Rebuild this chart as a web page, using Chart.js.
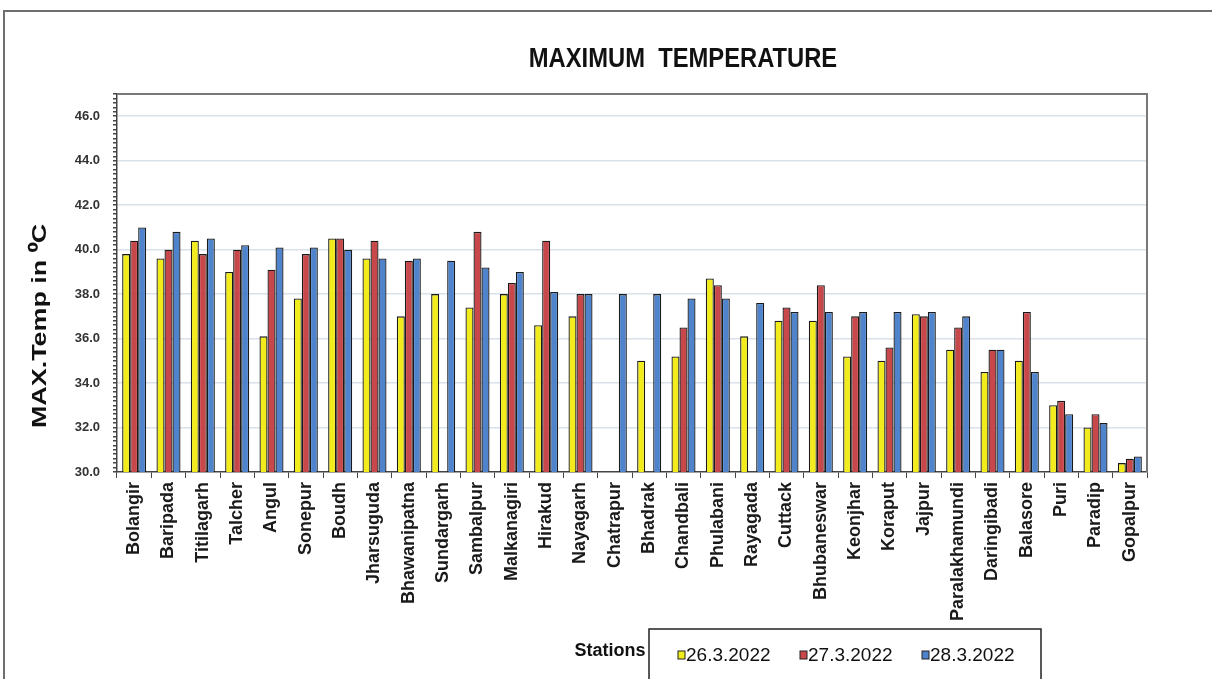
<!DOCTYPE html>
<html>
<head>
<meta charset="utf-8">
<script src="https://cdn.jsdelivr.net/npm/chart.js@4/dist/chart.umd.min.js"></script>
<style>
html, body { margin:0; padding:0; background:#fff; overflow:hidden; }
#wrap { position:relative; width:1212px; height:679px; }
#frame { position:absolute; left:3px; top:10px; width:1230px; height:700px; border:2px solid #6e6e6e; box-sizing:border-box; }
canvas { position:absolute; left:0; top:0; }
</style>
</head>
<body>
<div id="wrap">
  <div id="frame"></div>
  <canvas id="tempChart" width="1212" height="679"></canvas>
</div>
<script>
// stations along the x axis
const stations = ['Bolangir','Baripada','Titilagarh','Talcher','Angul','Sonepur','Boudh','Jharsuguda',
  'Bhawanipatna','Sundargarh','Sambalpur','Malkanagiri','Hirakud','Nayagarh','Chatrapur','Bhadrak',
  'Chandbali','Phulabani','Rayagada','Cuttack','Bhubaneswar','Keonjhar','Koraput','Jajpur',
  'Paralakhamundi','Daringibadi','Balasore','Puri','Paradip','Gopalpur'];

const dates = ['26.3.2022', '27.3.2022', '28.3.2022'];

// max temp per station (null = no report)
const temp26 = [39.8,39.6,40.4,39.0,36.1,37.8,40.5,39.6,37.0,38.0,37.4,38.0,36.6,37.0,null,35.0,
  35.2,38.7,36.1,36.8,36.8,35.2,35.0,37.1,35.5,34.5,35.0,33.0,32.0,30.4];
const temp27 = [40.4,40.0,39.8,40.0,39.1,39.8,40.5,40.4,39.5,null,40.8,38.5,40.4,38.0,null,null,
  36.5,38.4,null,37.4,38.4,37.0,35.6,37.0,36.5,35.5,37.2,33.2,32.6,30.6];
const temp28 = [41.0,40.8,40.5,40.2,40.1,40.1,40.0,39.6,39.6,39.5,39.2,39.0,38.1,38.0,38.0,38.0,
  37.8,37.8,37.6,37.2,37.2,37.2,37.2,37.2,37.0,35.5,34.5,32.6,32.2,30.7];

const yMin = 30;
const yMax = 47;
const yMajor = 2;
const yMinor = 0.2;

const FONT = '"Liberation Sans", Arial, sans-serif';
const colors = ['#f3ec1c', '#c8474b', '#4f84cc'];

function isMajor(v) {
    return Math.abs(v % yMajor) < 1e-6 || Math.abs(v % yMajor - yMajor) < 1e-6;
}

// frame round the plot area
const plotBox = {
    id: 'plotBox',
    afterDatasetsDraw(chart) {
        const {ctx, chartArea: a} = chart;
        ctx.save();
        ctx.strokeStyle = '#777';
        ctx.lineWidth = 2;
        ctx.beginPath();
        ctx.moveTo(a.left, a.top);
        ctx.lineTo(a.right, a.top);
        ctx.lineTo(a.right, a.bottom);
        ctx.stroke();
        ctx.restore();
    }
};

// condensed title texts, the "Stations" label and the boxed legend
const extraText = {
    id: 'extraText',
    afterDraw(chart) {
        const ctx = chart.ctx;
        ctx.save();
        ctx.fillStyle = '#111';
        ctx.textAlign = 'center';
        ctx.textBaseline = 'middle';

        // main title, a bit narrow like the original
        ctx.save();
        ctx.translate(683, 60);
        ctx.scale(0.88, 1);
        ctx.font = 'bold 27px ' + FONT;
        ctx.fillText('MAXIMUM  TEMPERATURE', 0, 0);
        ctx.restore();

        // y axis title
        ctx.save();
        ctx.translate(40, 326);
        ctx.rotate(-Math.PI / 2);
        ctx.scale(1.28, 1);
        ctx.font = 'bold 21px ' + FONT;
        ctx.fillText('MAX.Temp in \u2070C', 0, 0);
        ctx.restore();

        ctx.font = 'bold 18px ' + FONT;
        ctx.fillText('Stations', 610, 651);

        ctx.fillStyle = '#fff';
        ctx.fillRect(649, 629, 392, 60);
        ctx.strokeStyle = '#222';
        ctx.lineWidth = 1.5;
        ctx.strokeRect(649, 629, 392, 60);

        ctx.font = '19px ' + FONT;
        ctx.textAlign = 'left';
        chart.data.datasets.forEach((ds, i) => {
            const x = 678 + i * 122;
            ctx.fillStyle = ds.backgroundColor;
            ctx.fillRect(x, 651, 7, 8);
            ctx.strokeStyle = '#222';
            ctx.lineWidth = 1;
            ctx.strokeRect(x, 651, 7, 8);
            ctx.fillStyle = '#111';
            ctx.fillText(ds.label, x + 8, 656);
        });
        ctx.restore();
    }
};

new Chart(document.getElementById('tempChart'), {
    type: 'bar',
    data: {
        labels: stations,
        datasets: [temp26, temp27, temp28].map((d, i) => ({
            label: dates[i],
            data: d,
            backgroundColor: colors[i],
            borderColor: '#1a1a1a',
            borderWidth: 1.3,
            barPercentage: 1,
            categoryPercentage: 0.7
        }))
    },
    options: {
        responsive: false,
        devicePixelRatio: 1,
        animation: false,
        layout: { padding: { left: 22, right: 65, top: 94, bottom: 0 } },
        plugins: {
            legend: { display: false },
            tooltip: { enabled: false },
            title: { display: false }
        },
        scales: {
            x: {
                afterFit: (scale) => { scale.height = 207; },
                grid: { drawOnChartArea: false, tickLength: 6, tickColor: '#444' },
                border: { color: '#444', width: 1.5 },
                ticks: {
                    autoSkip: false,
                    minRotation: 90,
                    maxRotation: 90,
                    color: '#1a1a1a',
                    padding: 4,
                    font: { family: FONT, size: 18, weight: 'bold' }
                }
            },
            y: {
                min: yMin,
                max: yMax,
                afterFit: (scale) => { scale.width = 95; },
                grid: {
                    color: (c) => (c.tick && isMajor(c.tick.value) && c.tick.value > yMin) ? '#d9e2ea' : 'rgba(0,0,0,0)',
                    lineWidth: 1.5,
                    tickLength: 4,
                    tickColor: '#444'
                },
                border: { color: '#444', width: 1.5 },
                ticks: {
                    stepSize: yMinor,
                    maxTicksLimit: 200,
                    autoSkip: false,
                    padding: 13,
                    color: '#333',
                    font: { family: FONT, size: 13, weight: 'bold' },
                    callback: (v) => isMajor(v) ? Number(v).toFixed(1) : ''
                },
                title: { display: false }
            }
        }
    },
    plugins: [plotBox, extraText]
});
</script>
</body>
</html>
